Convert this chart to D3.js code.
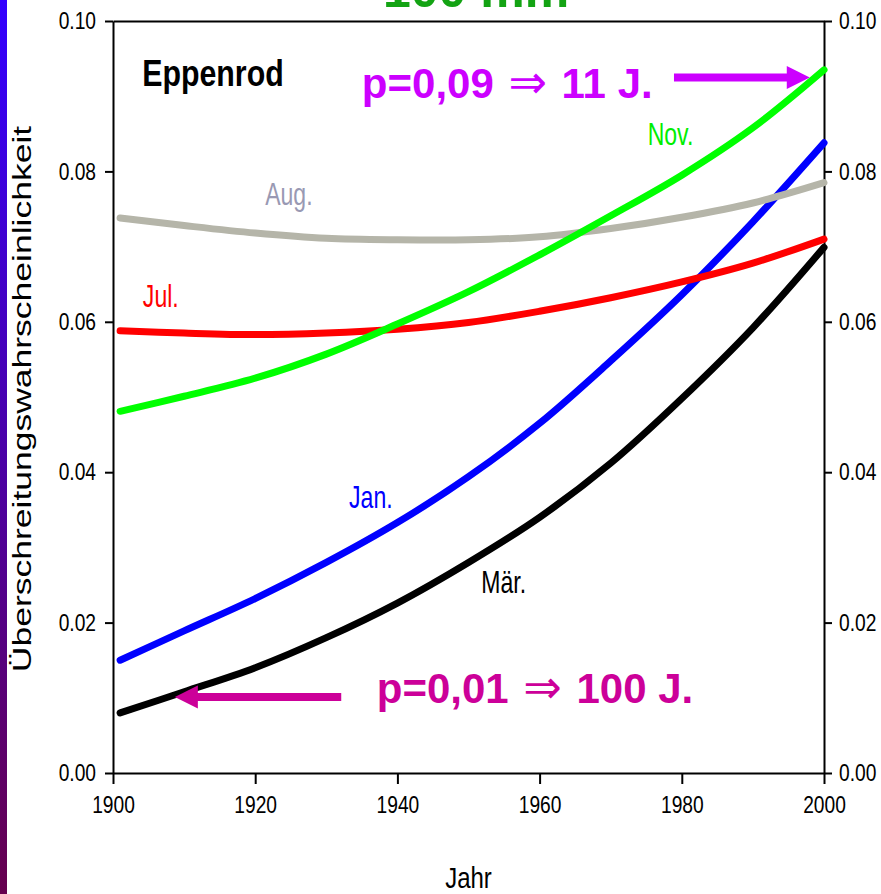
<!DOCTYPE html>
<html><head><meta charset="utf-8">
<script src="https://cdn.jsdelivr.net/npm/d3@7"></script>
<style>html,body{margin:0;padding:0;background:#fff;}svg{display:block;}</style>
</head><body>
<script>
// ---- data ----
const years = [1901,1910,1920,1930,1940,1950,1960,1970,1980,1990,2000];
const jan = [0.0150,0.0189,0.0232,0.0280,0.0333,0.0394,0.0465,0.0548,0.0636,0.0733,0.0838];
const maer = [0.0080,0.0108,0.0140,0.0180,0.0226,0.0280,0.0340,0.0412,0.0498,0.0592,0.0699];
const jul = [0.0588,0.0585,0.0583,0.0585,0.0590,0.0599,0.0614,0.0632,0.0653,0.0678,0.0710];
const aug = [0.0738,0.0728,0.0718,0.0711,0.0709,0.0709,0.0713,0.0724,0.0739,0.0758,0.0785];
const nov = [0.0481,0.0501,0.0525,0.0557,0.0597,0.0640,0.0689,0.0741,0.0795,0.0858,0.0935];
const seriesNames = ["Jan.","Mär.","Jul.","Aug.","Nov."];
const seriesColors = ["#0000ff","#000000","#ff0000","#b5b5a9","#00ff00"];
const labelColors = ["#0000ff","#000000","#ff0000","#9999b3","#00ee00"];
const labelYears = [1933.2,1951.8,1904.2,1921.4,1975.2];
const labelValues = [0.0352,0.0240,0.0620,0.0755,0.0835];
const xTicks = [1900,1920,1940,1960,1980,2000];
const yTicks = [0.00,0.02,0.04,0.06,0.08,0.10];
const stationName = "Eppenrod";
const xTitle = "Jahr";
const yTitle = "Überschreitungswahrscheinlichkeit";
const topTitle = "100 mm";
const note1 = {text:"p=0,09", mid:" ⇒ ", tail:"11 J.", year:1935.0, value:0.0898, color:"#cc00ff",
               arrowFrom:[1978.9,0.0925], arrowTo:[1998.0,0.0925]};
const note2 = {text:"p=0,01", mid:" ⇒ ", tail:"100 J.", year:1937.1, value:0.0093, color:"#cc0099",
               arrowFrom:[1932.1,0.0101], arrowTo:[1908.7,0.0101]};

// ---- layout ----
const W = 881, H = 894;
const margin = {top:21, right:57, bottom:121, left:113};
const svg = d3.select("body").append("svg").attr("width",W).attr("height",H);
const font = "'Liberation Sans', Arial, Helvetica, sans-serif";

// left gradient strip
const defs = svg.append("defs");
const grad = defs.append("linearGradient").attr("id","strip").attr("x1",0).attr("y1",0).attr("x2",0).attr("y2",1);
grad.append("stop").attr("offset","0%").attr("stop-color","#3300ff");
grad.append("stop").attr("offset","50%").attr("stop-color","#4a00a8");
grad.append("stop").attr("offset","100%").attr("stop-color","#66004d");
svg.append("rect").attr("x",0).attr("y",0).attr("width",7).attr("height",H).attr("fill","url(#strip)");

const x = d3.scaleLinear().domain([1900,2000]).range([margin.left, W-margin.right]);
const y = d3.scaleLinear().domain([0,0.1]).range([H-margin.bottom, margin.top]);

// top green title (cut off by the top edge, as in the reference)
svg.append("text").attr("x",383).attr("y",7).attr("font-family",font).attr("font-weight","bold")
  .attr("font-size",50).attr("fill","#13a313").text(topTitle);

// axes
const tickSX = 0.8, tickFS = 24;
function styleAxis(g){
  g.selectAll("path.domain").attr("stroke","#000").attr("stroke-width",2);
  g.selectAll(".tick line").attr("stroke","#000").attr("stroke-width",2);
  g.selectAll("text").attr("font-family",font).attr("font-size",tickFS).attr("fill","#000");
}
const gL = svg.append("g").attr("transform",`translate(${margin.left},0)`)
  .call(d3.axisLeft(y).tickValues(yTicks).tickFormat(d3.format(".2f")).tickSize(8).tickSizeOuter(0).tickPadding(9));
styleAxis(gL);
gL.selectAll("text").attr("x",-17/tickSX).attr("transform",`scale(${tickSX},1)`);
const gR = svg.append("g").attr("transform",`translate(${W-margin.right},0)`)
  .call(d3.axisRight(y).tickValues(yTicks).tickFormat(d3.format(".2f")).tickSize(8).tickSizeOuter(0).tickPadding(8));
styleAxis(gR);
gR.selectAll("text").attr("x",15/tickSX).attr("transform",`scale(${tickSX},1)`);
const gB = svg.append("g").attr("transform",`translate(0,${H-margin.bottom})`)
  .call(d3.axisBottom(x).tickValues(xTicks).tickFormat(d3.format("d")).tickSize(11).tickSizeOuter(0).tickPadding(12));
styleAxis(gB);
gB.selectAll("text").attr("transform",`scale(${tickSX},1)`);
const gT = svg.append("g").attr("transform",`translate(0,${margin.top})`)
  .call(d3.axisTop(x).tickValues([]).tickSizeOuter(0));
styleAxis(gT);

// axis titles
function stretched(txt, px, py, size, sx, opts={}){
  const t = svg.append("text").attr("transform",`translate(${px},${py}) ${opts.rotate?`rotate(${opts.rotate})`:""} scale(${sx},1)`)
    .attr("font-family",font).attr("font-size",size).attr("fill",opts.fill||"#000")
    .attr("font-weight",opts.weight||"normal").attr("text-anchor",opts.anchor||"start").text(txt);
  return t;
}
stretched(xTitle, (x(1900)+x(2000))/2, 888, 30, 0.8, {anchor:"middle"});
stretched(yTitle, 31, (y(0)+y(0.1))/2 + 2, 25, 1.42, {anchor:"middle", rotate:-90});

// lines
const allSeries = [jan, maer, jul, aug, nov];
const drawOrder = [0,1,2,3,4];
const line = d3.line().x((d,i)=>x(years[i])).y(d=>y(d)).curve(d3.curveCatmullRom.alpha(0.5));
drawOrder.forEach(k=>{
  svg.append("path").datum(allSeries[k]).attr("d",line).attr("fill","none")
    .attr("stroke",seriesColors[k]).attr("stroke-width",7)
    .attr("stroke-linecap","round").attr("stroke-linejoin","round");
});

// series labels
seriesNames.forEach((n,k)=>{
  stretched(n, x(labelYears[k]), y(labelValues[k]), 32, 0.72, {fill:labelColors[k]});
});

// station name
stretched(stationName, x(1904.1), y(0.0913), 37, 0.82, {weight:"bold"});

// annotations
function note(nt){
  const t = svg.append("text").attr("x",x(nt.year)).attr("y",y(nt.value))
    .attr("font-family",font).attr("font-size",42).attr("font-weight","bold").attr("fill",nt.color);
  t.append("tspan").text(nt.text);
  t.append("tspan").attr("font-weight","normal").attr("font-family","'DejaVu Sans', sans-serif").attr("font-size",46).text(nt.mid);
  t.append("tspan").text(nt.tail);
  const x0 = x(nt.arrowFrom[0]), x1 = x(nt.arrowTo[0]), yy = y(nt.arrowTo[1]);
  const dir = Math.sign(x1-x0), headL = 23, hw = 11.5, sw = 4;
  const xb = x1 - dir*headL;
  const pts = [[x0,yy-sw],[xb,yy-sw],[xb,yy-hw],[x1,yy],[xb,yy+hw],[xb,yy+sw],[x0,yy+sw]];
  svg.append("path").attr("d","M"+pts.map(p=>p.join(",")).join("L")+"Z").attr("fill",nt.color);
}
note(note1);
note(note2);
</script>
</body></html>
